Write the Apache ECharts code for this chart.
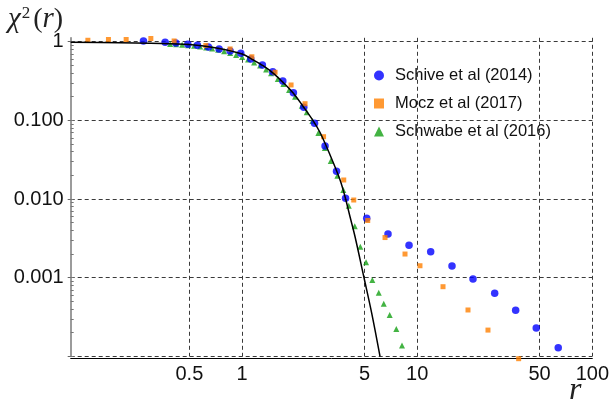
<!DOCTYPE html>
<html>
<head>
<meta charset="utf-8">
<script src="https://cdn.jsdelivr.net/npm/echarts@6/dist/echarts.min.js"></script>
<style>
  html, body { margin: 0; padding: 0; background: #ffffff; }
  #chart { width: 612px; height: 409px; }
</style>
</head>
<body>
<div id="chart"></div>
<script>
// ---- data ----
const curveR = [0.105, 0.2, 0.3, 0.5, 0.7, 1.0, 1.16, 1.323, 1.509, 1.721, 1.963, 2.238, 2.553, 2.788, 3.179, 3.626, 3.871, 4.134, 4.416, 4.969, 5.5, 6.133];
const curveY = [0.985, 0.968, 0.954, 0.921, 0.837, 0.698, 0.585, 0.491, 0.396, 0.301, 0.221, 0.149, 0.098, 0.07, 0.0363, 0.0175, 0.0107, 0.00596, 0.00332, 0.001, 0.000353, 0.0001];

const schiveR = [0.2733, 0.3635, 0.4183, 0.4899, 0.5557, 0.6421, 0.739, 0.8541, 0.983, 1.121, 1.306, 1.497, 1.708, 1.963, 2.25, 2.593, 2.977, 3.462, 3.898, 5.15, 6.813, 8.98, 11.94, 15.8, 20.83, 27.7, 36.49, 47.85, 63.89];
const schiveY = [1.02, 0.985, 0.963, 0.929, 0.903, 0.856, 0.808, 0.762, 0.712, 0.603, 0.506, 0.416, 0.317, 0.225, 0.1466, 0.0918, 0.0472, 0.0225, 0.01022, 0.00571, 0.00359, 0.00259, 0.00214, 0.00141, 0.000963, 0.000633, 0.000385, 0.000229, 0.000129];

const moczR = [0.1316, 0.1725, 0.2177, 0.3012, 0.4091, 0.6208, 0.854, 1.137, 1.543, 1.904, 2.288, 2.919, 3.806, 4.341, 5.218, 6.55, 8.518, 10.37, 14.04, 19.5, 25.36, 37.96];
const moczY = [1.042, 1.066, 1.066, 1.098, 1.021, 0.895, 0.808, 0.643, 0.408, 0.2816, 0.1628, 0.062, 0.01746, 0.00972, 0.00534, 0.00324, 0.002, 0.00142, 0.000769, 0.000389, 0.000216, 0.0000935];

const schwabeR = [0.3882, 0.4201, 0.4545, 0.4918, 0.5321, 0.5758, 0.6231, 0.6742, 0.7295, 0.7894, 0.8541, 0.9242, 1.0, 1.082, 1.171, 1.267, 1.371, 1.464, 1.599, 1.721, 1.854, 2.007, 2.192, 2.34, 2.519, 2.726, 2.969, 3.208, 3.499, 3.786, 4.064, 4.398, 4.733, 5.104, 5.542, 6.029, 6.439, 6.966, 7.598, 8.19];
const schwabeY = [0.935, 0.927, 0.916, 0.903, 0.887, 0.869, 0.844, 0.82, 0.789, 0.755, 0.718, 0.678, 0.639, 0.594, 0.544, 0.498, 0.443, 0.397, 0.336, 0.29, 0.243, 0.2, 0.1537, 0.1266, 0.0982, 0.0691, 0.0445, 0.0304, 0.0198, 0.01303, 0.00823, 0.0045, 0.00248, 0.00157, 0.000935, 0.000645, 0.000467, 0.000336, 0.000223, 0.000138];

const seriesNames = ['Schive et al (2014)', 'Mocz et al (2017)', 'Schwabe et al (2016)'];

const xTickValues = [0.5, 1, 5, 10, 50, 100];
const xTickLabels = ['0.5', '1', '5', '10', '50', '100'];
const yGridValues = [0.0001, 0.001, 0.01, 0.1, 1];
const yTickValues = [0.001, 0.01, 0.1, 1];
const yTickLabels = ['0.001', '0.010', '0.100', '1'];

// minor (2..9 per decade) tick marks on the left axis
const yMinorTicks = [];
for (let k = -4; k <= -1; k++) {
  for (let m = 1; m <= 9; m++) yMinorTicks.push(+(m * Math.pow(10, k)).toPrecision(6));
}
yMinorTicks.push(1);

function zip(a, b) { return a.map((v, i) => [v, b[i]]); }
function pickLabel(values, labels, v) {
  for (let i = 0; i < values.length; i++) {
    if (Math.abs(Math.log10(v) - Math.log10(values[i])) < 1e-6) return labels[i];
  }
  return '';
}

const chart = echarts.init(document.getElementById('chart'), null, { renderer: 'canvas' });
const gridLine = { show: true, lineStyle: { color: '#3a3a3a', width: 1, type: [4, 3] } };

chart.setOption({
  animation: false,
  backgroundColor: '#ffffff',
  title: [
    {
      text: '{i|χ}{s|2}{p|(}{i|r}{p|)}',
      left: 8, top: 5, padding: 0,
      textStyle: {
        fontWeight: 'normal',
        rich: {
          i: { fontFamily: 'Liberation Serif', fontStyle: 'italic', fontWeight: 'normal', fontSize: 29, color: '#222' },
          p: { fontFamily: 'Liberation Serif', fontWeight: 'normal', fontSize: 28, color: '#222' },
          s: { fontFamily: 'Liberation Serif', fontWeight: 'normal', fontSize: 17, color: '#222', verticalAlign: 'top', padding: [0, 3, 0, 1] }
        }
      }
    },
    {
      text: 'r',
      left: 569, top: 375, padding: 0,
      textStyle: { fontFamily: 'Liberation Serif', fontStyle: 'italic', fontWeight: 'normal', fontSize: 32, color: '#222' }
    }
  ],
  legend: {
    data: seriesNames,
    orient: 'vertical',
    left: 374, top: 67, padding: 0,
    itemWidth: 10, itemHeight: 10, itemGap: 11,
    textStyle: { fontFamily: 'Liberation Sans', fontSize: 16.5, color: '#111', padding: [0, 0, 0, 6] }
  },
  grid: { left: 70.7, right: 19.6, top: 37.8, bottom: 52.6, containLabel: false },
  xAxis: {
    type: 'log', logBase: 10, min: 0.105, max: 100,
    offset: 2,
    axisLine: { show: true, lineStyle: { color: '#000', width: 1 } },
    axisTick: { show: false, customValues: xTickValues },
    axisLabel: {
      customValues: xTickValues, margin: 6,
      fontFamily: 'Liberation Sans', fontSize: 20, color: '#111',
      formatter: v => pickLabel(xTickValues, xTickLabels, v)
    },
    splitLine: gridLine,
    minorTick: { show: false }, minorSplitLine: { show: false }
  },
  yAxis: [
    {
      type: 'log', logBase: 10, min: 0.0001, max: 1.12,
      axisLine: { show: true, lineStyle: { color: '#7a7a7a', width: 1.5 } },
      axisTick: { show: true, customValues: yGridValues, length: 3, lineStyle: { color: '#666' } },
      axisLabel: {
        customValues: yTickValues, margin: 7,
        fontFamily: 'Liberation Sans', fontSize: 20, color: '#111',
        formatter: v => pickLabel(yTickValues, yTickLabels, v)
      },
      splitLine: gridLine
    },
    {
      type: 'log', logBase: 10, min: 0.0001, max: 1.12, position: 'left',
      axisLine: { show: false },
      axisTick: { show: true, inside: true, length: 3, customValues: yMinorTicks, lineStyle: { color: '#777', width: 1 } },
      axisLabel: { show: false },
      splitLine: { show: false }
    }
  ],
  series: [
    {
      name: seriesNames[2], type: 'scatter', symbol: 'triangle', symbolSize: [6, 6],
      itemStyle: { color: '#14a014' }, data: zip(schwabeR, schwabeY), z: 2
    },
    {
      name: seriesNames[0], type: 'scatter', symbol: 'circle', symbolSize: 7.5,
      itemStyle: { color: '#0000ff' }, data: zip(schiveR, schiveY), z: 3
    },
    {
      name: seriesNames[1], type: 'scatter', symbol: 'rect', symbolSize: 5, clip: false,
      itemStyle: { color: '#ff8000' }, data: zip(moczR, moczY), z: 4
    },
    {
      name: 'fit', type: 'line', showSymbol: false, symbol: 'none', smooth: 0.35,
      lineStyle: { color: '#000', width: 1.5 }, data: zip(curveR, curveY), z: 5
    }
  ]
});
</script>
</body>
</html>
